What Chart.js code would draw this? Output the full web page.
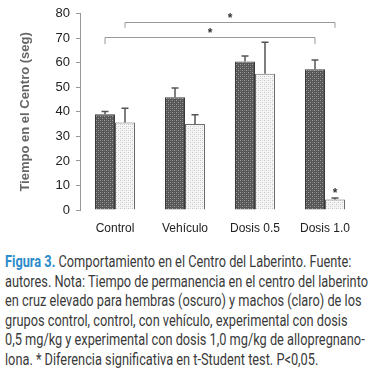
<!DOCTYPE html>
<html lang="es">
<head>
<meta charset="UTF-8">
<title>Figura 3</title>
<script src="https://cdn.jsdelivr.net/npm/chart.js"></script>
<style>
  body { margin: 0; background: #fff; width: 375px; height: 373px; overflow: hidden; position: relative; }
  #wrap { position: absolute; left: 0; top: 0; width: 375px; height: 240px; }
  #caption {
    position: absolute; left: 5px; top: 252px;
    font-family: Roboto, "Liberation Sans", sans-serif; font-size: 16px; line-height: 19.6px;
    color: #3a3a3a; white-space: nowrap; transform-origin: 0 0;
  }
  #caption b { color: #2b8ccc; }
</style>
</head>
<body>
<div id="wrap"><canvas id="chart" width="375" height="240"></canvas></div>
<div id="caption">
  <div><b>Figura 3.</b> Comportamiento en el Centro del Laberinto. Fuente:</div>
  <div>autores. Nota: Tiempo de permanencia en el centro del laberinto</div>
  <div>en cruz elevado para hembras (oscuro) y machos (claro) de los</div>
  <div>grupos control, control, con vehículo, experimental con dosis</div>
  <div>0,5 mg/kg y experimental con dosis 1,0 mg/kg de allopregnano-</div>
  <div>lona. * Diferencia significativa en t-Student test. P&lt;0,05.</div>
</div>
<script>
  const categories = ['Control', 'Vehículo', 'Dosis 0.5', 'Dosis 1.0'];
  const hembras = [39, 46, 60.6, 57.4];
  const machos = [35.7, 35.1, 55.6, 4.3];
  const errHembras = [1.2, 3.7, 2.2, 3.8];
  const errMachos = [5.8, 3.7, 12.8, 0.6];
  const yTicks = [0, 10, 20, 30, 40, 50, 60, 70, 80];

  // significance brackets: [dataset, from index, to index, level, end level]
  const brackets = [
    [0, 0, 3, 70.7, 67.6],
    [1, 0, 3, 76.8, 74.3]
  ];
  // star above a single bar: [dataset, index, value]
  const stars = [[1, 3, 7.4]];

  function makePattern(base, dot, dot2) {
    const c = document.createElement('canvas');
    c.width = 4; c.height = 4;
    const g = c.getContext('2d');
    g.fillStyle = base; g.fillRect(0, 0, 4, 4);
    g.fillStyle = dot;
    g.fillRect(0, 0, 1, 1); g.fillRect(2, 2, 1, 1);
    g.fillStyle = dot2;
    g.fillRect(2, 0, 1, 1); g.fillRect(0, 2, 1, 1);
    return g.createPattern(c, 'repeat');
  }
  const ctx0 = document.getElementById('chart').getContext('2d');
  const darkFill = makePattern('#565656', '#a0a0a0', '#727272');
  const lightFill = makePattern('#f6f6f6', '#c4c4c4', '#e0e0e0');

  const extras = {
    id: 'extras',
    afterDatasetsDraw(chart) {
      const ctx = chart.ctx;
      const y = chart.scales.y;
      const errs = [errHembras, errMachos];
      ctx.save();
      // error bars (upper only)
      ctx.strokeStyle = '#555';
      ctx.lineWidth = 1.5;
      chart.data.datasets.forEach((ds, di) => {
        chart.getDatasetMeta(di).data.forEach((bar, i) => {
          const top = y.getPixelForValue(ds.data[i] + errs[di][i]);
          ctx.beginPath();
          ctx.moveTo(bar.x, bar.y);
          ctx.lineTo(bar.x, top);
          ctx.moveTo(bar.x - 3.5, top);
          ctx.lineTo(bar.x + 3.5, top);
          ctx.stroke();
        });
      });
      // brackets
      ctx.strokeStyle = '#9a9a9a';
      ctx.lineWidth = 1;
      ctx.fillStyle = '#333';
      ctx.font = 'bold 12px "Liberation Sans", Arial, sans-serif';
      ctx.textAlign = 'center';
      ctx.textBaseline = 'middle';
      brackets.forEach(b => {
        const meta = chart.getDatasetMeta(b[0]).data;
        const x1 = meta[b[1]].x, x2 = meta[b[2]].x;
        const yl = Math.round(y.getPixelForValue(b[3])) + 0.5;
        const ye = y.getPixelForValue(b[4]);
        ctx.beginPath();
        ctx.moveTo(x1, ye); ctx.lineTo(x1, yl); ctx.lineTo(x2, yl); ctx.lineTo(x2, ye);
        ctx.stroke();
        ctx.fillText('*', (x1 + x2) / 2, yl - 4);
      });
      stars.forEach(s => {
        const bar = chart.getDatasetMeta(s[0]).data[s[1]];
        ctx.fillText('*', bar.x, y.getPixelForValue(s[2]) + 2);
      });
      ctx.restore();
    }
  };

  new Chart(ctx0, {
    type: 'bar',
    data: {
      labels: categories,
      datasets: [
        { label: 'Hembras', data: hembras, backgroundColor: darkFill, borderColor: '#3a3a3a', borderWidth: 1 },
        { label: 'Machos', data: machos, backgroundColor: lightFill, borderColor: '#6a6a6a', borderWidth: 1 }
      ]
    },
    options: {
      responsive: false,
      animation: false,
      events: [],
      categoryPercentage: 0.5714,
      barPercentage: 1,
      layout: { padding: { left: 0, right: 15, top: 10, bottom: 0 } },
      plugins: { legend: { display: false }, tooltip: { enabled: false } },
      scales: {
        x: {
          grid: { display: false },
          border: { display: false },
          ticks: { color: '#222', font: { family: '"Liberation Sans", Arial, sans-serif', size: 12 }, padding: 3 },
          afterFit(s) { s.height = 30; }
        },
        y: {
          min: 0, max: 80,
          afterBuildTicks(s) { s.ticks = yTicks.map(v => ({ value: v })); },
          grid: { drawOnChartArea: false, tickLength: 4, color: '#999' },
          border: { color: '#999' },
          ticks: { color: '#222', font: { family: '"Liberation Sans", Arial, sans-serif', size: 13 }, padding: 6 },
          title: {
            display: true, text: 'Tiempo en el Centro (seg)', color: '#666',
            font: { family: '"Liberation Sans", Arial, sans-serif', size: 13, weight: 'bold' },
            padding: { top: 18, bottom: 0 }
          },
          afterFit(s) { s.width = 80; }
        }
      }
    },
    plugins: [extras]
  });

  // fit the caption width to the reference line length
  const cap = document.getElementById('caption');
  let w = 0;
  cap.querySelectorAll('div').forEach(d => {
    d.style.display = 'inline-block';
    w = Math.max(w, d.getBoundingClientRect().width);
    d.style.display = 'block';
  });
  cap.style.transform = 'scaleX(' + (363 / w) + ')';
</script>
</body>
</html>
